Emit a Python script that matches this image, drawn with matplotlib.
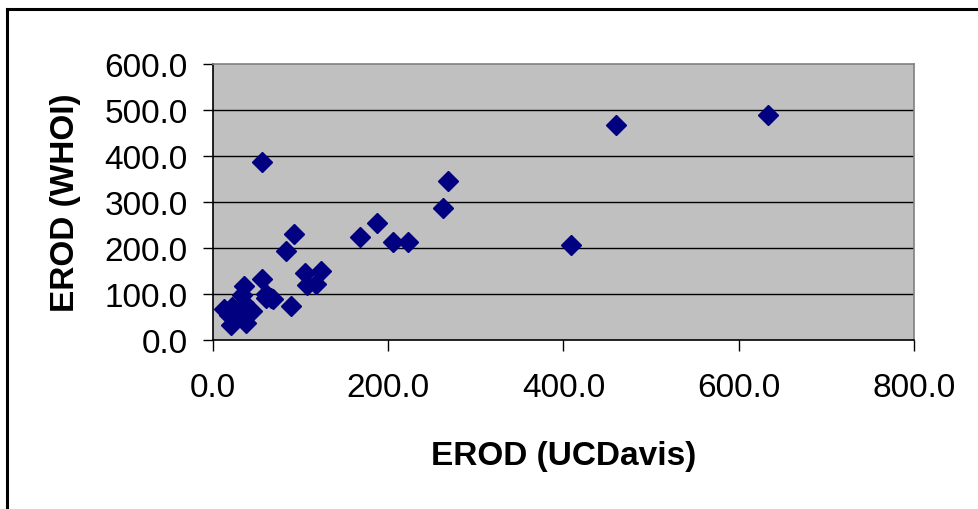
import matplotlib
matplotlib.use("Agg")
import matplotlib.pyplot as plt
from matplotlib.lines import Line2D

plt.rcParams['font.family'] = ['Liberation Sans', 'DejaVu Sans']

# EROD values
erod_ucdavis = [12, 18, 20, 24, 22, 28, 30, 35, 38, 40, 33, 35, 44,
                56, 56, 61, 69, 60, 66, 89, 83, 93, 105, 123, 107, 118,
                168, 187, 205, 223, 262, 268, 408, 460, 633]
erod_whoi = [68, 55, 32, 45, 72, 60, 50, 80, 38, 68, 98, 117, 64,
             386, 133, 91, 89, 100, 92, 75, 194, 230, 145, 150, 120, 122,
             225, 254, 212, 212, 288, 346, 207, 467, 490]

x_ticks = [0, 200, 400, 600, 800]
y_ticks = [0, 100, 200, 300, 400, 500, 600]

W, H = 979, 510
fig = plt.figure(figsize=(W / 100, H / 100), dpi=100)
fig.patch.set_facecolor('white')

# outer frame
fig.add_artist(Line2D([7 / W, 7 / W], [0, 1 - 9.5 / H], transform=fig.transFigure,
                      color='black', lw=2.2, solid_capstyle='projecting'))
fig.add_artist(Line2D([7 / W, 1.0], [1 - 9.5 / H, 1 - 9.5 / H], transform=fig.transFigure,
                      color='black', lw=2.2, solid_capstyle='projecting'))

left, right, top, bottom = 213, 914, 65, 341
ax = fig.add_axes([left / W, 1 - bottom / H, (right - left) / W, (bottom - top) / H])
ax.set_facecolor('#C0C0C0')

for yv in y_ticks[1:-1]:
    ax.axhline(yv, color='black', lw=1.0, zorder=1)

ax.plot(erod_ucdavis, erod_whoi, linestyle='none', marker='D', markersize=10,
        color='#000080', markeredgecolor='#000080', zorder=3, clip_on=False)

ax.set_xlim(0, 800)
ax.set_ylim(0, 600)
ax.set_xticks(x_ticks)
ax.set_yticks(y_ticks)
ax.set_xticklabels([f"{v:.1f}" for v in x_ticks])
ax.set_yticklabels([f"{v:.1f}" for v in y_ticks])

ax.spines['left'].set_color('black')
ax.spines['bottom'].set_color('black')
ax.spines['top'].set_color('#808080')
ax.spines['right'].set_color('#808080')
for s in ax.spines.values():
    s.set_linewidth(1.2)

ax.tick_params(axis='y', direction='out', length=7, width=1, color='black',
               labelsize=24, pad=11)
ax.tick_params(axis='x', direction='out', length=8, width=1, color='black',
               labelsize=24, pad=15)

fig.text(564 / W, 1 - 456 / H, "EROD (UCDavis)", ha='center', va='center',
         fontsize=24, fontweight='bold')
fig.text(66 / W, 1 - 203 / H, "EROD (WHOI)", ha='center', va='center',
         rotation=90, fontsize=24, fontweight='bold')

fig.savefig('out.png', dpi=100, facecolor='white')
